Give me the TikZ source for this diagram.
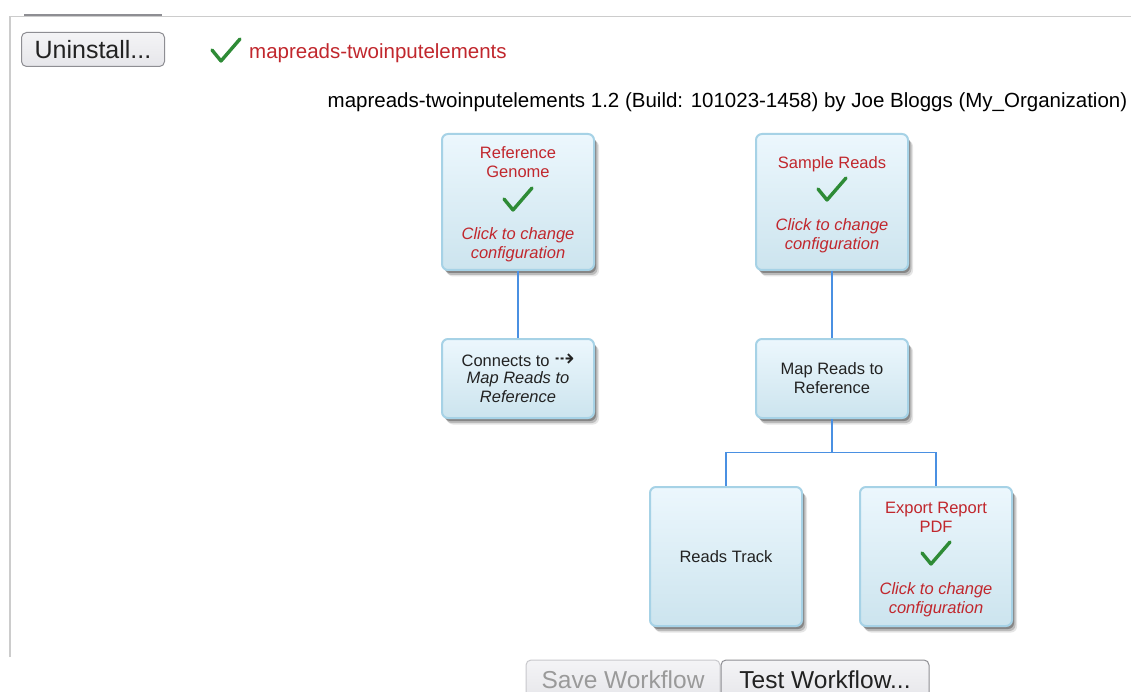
\documentclass[tikz,border=0pt]{standalone}
\usepackage{fontspec}
\setmainfont{Liberation Sans}
\newfontfamily\djv{DejaVu Sans}
\usetikzlibrary{shadows}
\definecolor{boxborder}{HTML}{A6D2E6}
\definecolor{boxtop}{HTML}{ECF7FD}
\definecolor{boxbot}{HTML}{CCE4EE}
\definecolor{redtxt}{HTML}{C1272D}
\definecolor{chkgreen}{HTML}{2E8B36}
\definecolor{linkblue}{HTML}{4A90E2}
\definecolor{framegray}{HTML}{CCCCCC}
\definecolor{btnborder}{HTML}{8E8E93}
\definecolor{btnlight}{HTML}{C8C8CC}
\definecolor{btntop}{HTML}{F4F4F6}
\definecolor{btnbot}{HTML}{E6E6EA}
\definecolor{darktxt}{HTML}{222222}
\definecolor{graytxt}{HTML}{9A9A9A}
\newcommand{\topstrut}{\rule{0pt}{17pt}}
\begin{document}
\begin{tikzpicture}[x=1pt,y=-1pt,
  wfbox/.style={draw=boxborder, line width=2pt, rounded corners=6pt,
    top color=boxtop, bottom color=boxbot, minimum width=152pt,
    minimum height=#1, align=center, inner sep=0pt, text=darktxt,
    font=\fontsize{16.5}{19}\selectfont,
    drop shadow={shadow xshift=5pt, shadow yshift=-6.5pt, opacity=0.1, fill=black},
    drop shadow={shadow xshift=3.5pt, shadow yshift=-5pt, opacity=0.18, fill=black},
    drop shadow={shadow xshift=2pt, shadow yshift=-3pt, opacity=0.28, fill=black}},
  btn/.style={draw=btnborder, line width=1pt, rounded corners=5pt,
    top color=btntop, bottom color=btnbot, inner sep=0pt, text=darktxt,
    font=\fontsize{24.5}{30}\selectfont},
  link/.style={draw=linkblue, line width=1.6pt},
  chk/.pic={\draw[chkgreen, line width=3.4pt, line cap=round, line join=round]
    (-14,-1) -- (-5,10) -- (14,-12);}
]
\useasboundingbox (0,0) rectangle (1131,692);
\clip (0,0) rectangle (1131,692);
\fill[white] (0,0) rectangle (1131,692);

% frame
\draw[framegray, line width=1.2pt] (10,657) -- (10,16.5) -- (1131,16.5);
\draw[btnborder, line width=2.5pt] (24,15) -- (162,15);

% header
\node[btn, minimum width=143pt, minimum height=34pt, font=\fontsize{25}{30}\selectfont] (uninst) at (93,49.5) {Uninstall...};
\pic at (226,51) {chk};
\node[anchor=base west, inner sep=0pt, text=redtxt, font=\fontsize{20.5}{24}\selectfont] (wfname) at (249,59) {mapreads-twoinputelements};
\node[anchor=base, inner sep=0pt, text=black, font=\fontsize{20.5}{24}\selectfont] (title) at (727.5,108) {mapreads-twoinputelements 1.2 (Build: 101023-1458) by Joe Bloggs (My\_Organization)};

% boxes
\node[wfbox=136pt, text=redtxt] (refg) at (518,202) {\topstrut Reference\\Genome\\[43pt]\textit{Click to change}\\\textit{configuration}};
\node[wfbox=136pt, text=redtxt] (samp) at (832,202) {\topstrut Sample Reads\\[43pt]\textit{Click to change}\\\textit{configuration}};
\node[wfbox=79pt] (conn) at (518,378.5) {Connects to {\djv\fontsize{24}{19}\selectfont ⇢}\\[-2pt]\textit{Map Reads to}\\\textit{Reference}};
\node[wfbox=79pt] (mapr) at (832,378.5) {Map Reads to\\Reference};
\node[wfbox=139pt] (rtrk) at (726,556.5) {Reads Track};
\node[wfbox=139pt, text=redtxt] (expo) at (936,556.5) {\topstrut Export Report\\PDF\\[43pt]\textit{Click to change}\\\textit{configuration}};

\pic at (518,200) {chk};
\pic at (832,190) {chk};
\pic at (936,554) {chk};

% connectors
\coordinate (jn) at (832,452.5);
\draw[link] (refg.south) -- (conn.north);
\draw[link] (samp.south) -- (mapr.north);
\draw[link] (mapr.south) -- (jn);
\draw[link] (jn) -| (rtrk.north);
\draw[link] (jn) -| (expo.north);

% bottom buttons
\node[btn, draw=btnlight, text=graytxt, minimum width=194pt, minimum height=40pt] (save) at (623,680) {Save Workflow};
\node[btn, minimum width=208pt, minimum height=40pt] (test) at (825,680) {Test Workflow...};
\end{tikzpicture}
\end{document}
